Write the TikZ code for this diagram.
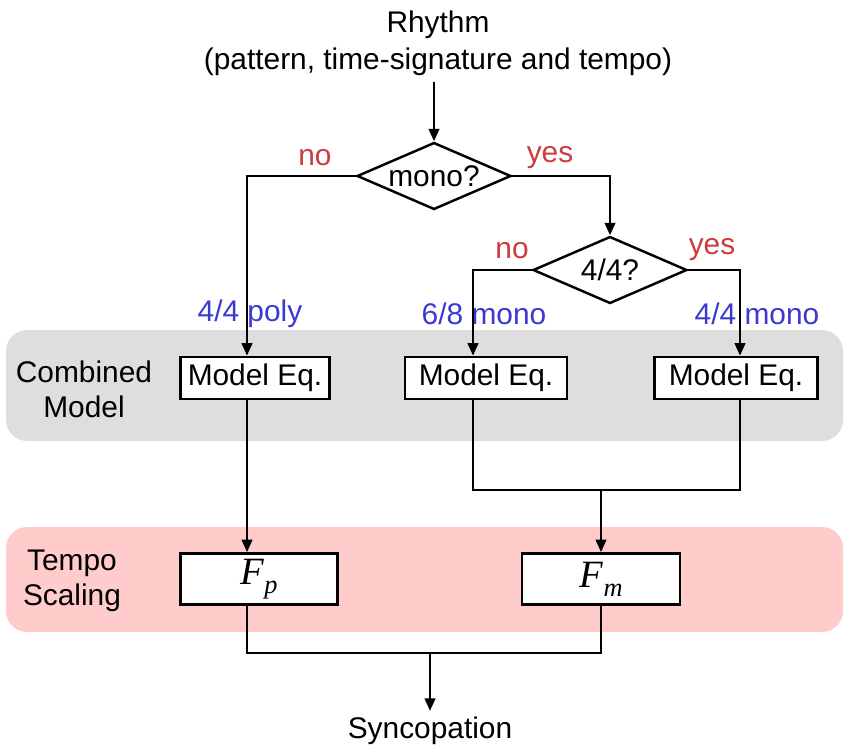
\documentclass[tikz,border=0pt]{standalone}
\usepackage{fontspec}
\setmainfont{Liberation Sans}
\newfontfamily\fmathfont{Liberation Serif}
\usepackage{xcolor}
\usepackage{tikz}
\usetikzlibrary{arrows.meta,backgrounds,positioning,shapes.geometric}
\definecolor{syInk}{HTML}{000000}
\definecolor{syNo}{HTML}{CC3B3F}
\definecolor{syKind}{HTML}{3A3AD2}
\definecolor{syBandModel}{HTML}{DEDEDE}
\definecolor{syBandTempo}{HTML}{FFCBCB}
\tikzset{
  sy diagram/.style={font=\fontsize{17}{21}\selectfont, text=syInk,
    line join=miter},
  sy box/.style={draw=syInk, fill=white, line width=1.5pt,
    minimum height=0.84cm, inner sep=2pt, align=center},
  sy fbox/.style={sy box, minimum height=1.02cm, minimum width=3.14cm},
  sy test/.style={diamond, draw=syInk, fill=white, line width=1.4pt,
    inner sep=0pt, aspect=2.3, minimum width=3.08cm, minimum height=1.34cm},
  sy line/.style={draw=syInk, line width=1.4pt},
  sy arrow/.style={sy line, -{Triangle[length=2.5mm,width=2.1mm]}},
  sy answer/.style={text=syNo},
  sy kind/.style={text=syKind},
  sy band/.style={rounded corners=0.42cm}
}
\newcommand{\Fsub}[1]{{\fontsize{22}{22}\fmathfont\itshape F\kern0.3pt\raisebox{-0.5ex}{\fontsize{15}{15}\selectfont #1}}}

\begin{document}
\begin{tikzpicture}[sy diagram,x=0.02cm,y=-0.02cm]
\useasboundingbox (0,0) rectangle (845,744);
% layer bands
\fill[syBandModel,sy band] (6,330) rectangle (843,441);
\fill[syBandTempo,sy band] (6,527) rectangle (843,632);
\node (combined) at (84,389) [align=center] {Combined\\[-1pt]Model};
\node (scaling) at (72,581) [align=center] {Tempo\\[-1pt]Scaling};
% input and decisions
\node (rhythm) at (438,43) [align=center] {Rhythm\\(pattern, time-signature and tempo)};
\node[sy test] (mono) at (434,176) {mono?};
\node[sy test] (meter) at (610,270) {4/4?};
\coordinate (polycol) at (247,0);
\coordinate (sixcol) at (473,0);
\coordinate (fourcol) at (740,0);
% model equations
\node[sy box,minimum width=2.98cm] (eqpoly) at (255,378) {Model Eq.};
\node[sy box,minimum width=3.24cm] (eqsix) at (486,378) {Model Eq.};
\node[sy box,minimum width=3.26cm] (eqfour) at (736,378) {Model Eq.};
% tempo scaling
\node[sy fbox] (fpoly) at (259,579) {\Fsub{p}};
\node[sy fbox,minimum width=3.16cm] (fmono) at (601,579) {\Fsub{m}};
\node (sync) at (430,731) {Syncopation};
% answers
\node[sy answer] (monono) at (315,158) {no};
\node[sy answer] (monoyes) at (550,158) {yes};
\node[sy answer] (meterno) at (512,251) {no};
\node[sy answer] (meteryes) at (712,250) {yes};
\node[sy kind] (kindpoly) at (250,314) {4/4 poly};
\node[sy kind] (kindsix) at (484,314) {6/8 mono};
\node[sy kind] (kindfour) at (757,314) {4/4 mono};
% connectors
\draw[sy arrow] (rhythm.south -| mono.north) -- (mono.north);
\draw[sy arrow] (mono.west) -| (polycol |- eqpoly.north);
\draw[sy arrow] (mono.east) -| (meter.north);
\draw[sy arrow] (meter.west) -| (sixcol |- eqsix.north);
\draw[sy arrow] (meter.east) -| (fourcol |- eqfour.north);
\draw[sy arrow] (polycol |- eqpoly.south) -- (polycol |- fpoly.north);
\coordinate (merge) at (601,490);
\draw[sy line] (sixcol |- eqsix.south) |- (merge) -| (fourcol |- eqfour.south);
\draw[sy arrow] (merge) -- (fmono.north);
\coordinate (gather) at (430,653);
\draw[sy line] (polycol |- fpoly.south) |- (gather) -| (fmono.south);
\draw[sy arrow] (gather) -- (sync.north);
\end{tikzpicture}
\end{document}
